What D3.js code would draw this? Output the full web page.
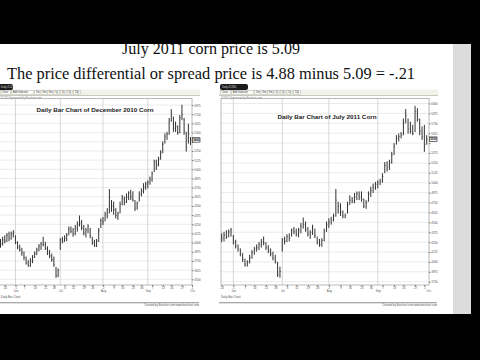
<!DOCTYPE html>
<html>
<head>
<meta charset="utf-8">
<script src="https://cdn.jsdelivr.net/npm/d3@7"></script>
<style>
  body { margin: 0; background: #000; }
  svg { display: block; }
</style>
</head>
<body>
<div id="chart"></div>
<script>
// slide text
var slideLines = ['July 2011 corn price is 5.09', 'The price differential or spread price is 4.88 minus 5.09 = -.21'];

// December 2010 corn, daily bars (cents/bu)
var decHigh = [405,408,410,413,415,415,417,410,402,397, 393,388,381,376,379,383,388,393,398,401,
  408,401,395,390,385,381,367,365,406,408, 410,413,422,422,420,424,429,437,431,424,
  420,425,420,408,404,405,420,433,435,442, 447,473,458,456,447,442,456,465,463,467,
  470,472,470,458,456,470,474,481,483,485, 490,497,513,513,517,526,538,549,551,570,
  582,572,565,560,574,588,570,551,562,544];
var decLow = [393,396,399,401,402,404,407,398,391,388, 382,376,370,367,367,372,379,383,388,390,
  395,390,383,379,374,367,352,353,390,399, 401,402,410,413,408,410,415,422,417,410,
  407,413,406,397,394,394,401,420,424,429, 433,440,442,438,433,431,440,451,451,454,
  458,458,456,443,445,456,463,467,472,474, 479,483,496,499,504,513,522,535,540,547,
  565,551,551,547,549,567,547,524,535,533];
var decClose = [398,404,402,410,406,412,414,400,394,390, 386,380,372,369,375,380,385,390,395,398,
  397,392,386,382,377,370,355,362,404,402, 406,410,418,415,412,420,425,427,420,413,
  417,422,409,400,396,402,416,430,428,438, 440,462,450,445,437,440,452,460,455,462,
  468,462,458,447,454,466,470,476,480,482, 486,494,510,506,514,522,534,545,548,565,
  575,556,558,550,570,575,552,530,548,540];

// July 2011 corn, daily bars (cents/bu)
var julHigh = [436,438,440,441,443,434,428,422,417,411, 404,402,409,415,419,422,425,429,432,425,
  421,417,413,409,400,394,430,432,435,436, 442,444,442,443,449,456,451,444,440,447,
  442,432,429,430,442,451,455,457,461,492, 476,474,465,461,476,484,482,487,489,489,
  489,480,478,489,495,499,501,503,505,512, 526,527,529,539,550,560,562,564,581,593,
  581,577,573,597,594,581,571,573,560];
var julLow = [425,426,429,431,432,422,417,413,407,400, 394,394,398,404,409,413,415,418,421,415,
  411,407,402,398,381,380,413,422,425,426, 432,435,432,431,436,442,438,432,429,434,
  430,422,419,419,426,438,443,447,451,457, 461,458,455,455,461,472,474,474,478,478,
  476,468,467,476,482,487,491,493,497,500, 512,514,516,524,535,548,552,556,560,575,
  562,562,560,564,577,560,554,539,548];
var julClose = [430,434,432,438,440,425,420,416,410,403, 397,400,405,412,416,418,422,425,424,418,
  414,410,405,401,384,388,428,426,432,430, 440,438,435,440,445,447,441,435,437,443,
  433,425,422,427,438,447,450,453,458,478, 470,463,458,459,472,478,477,482,486,482,
  479,470,475,486,490,494,498,500,502,508, 522,520,526,535,546,556,558,560,575,585,
  568,565,562,590,580,565,558,548,555];

// axis ticks
var decYTicks = [350,362.5,375,387.5,400,412.5,425,437.5,450,462.5,475,487.5,500,512.5,525,537.5,550,562.5,575,587.5];
var julYTicks = [375,387.5,400,412.5,425,437.5,450,462.5,475,487.5,500,512.5,525,537.5,550,562.5,575,587.5,600];
var monthLbl = ['Jun','Jul','Aug','Sep','Oct'];
var decMonthIdx = [7, 28, 48, 69, 89.7];
var julMonthIdx = [5, 26, 46, 67, 88.7];
var decWeekIdx = [2,7,11,16,21,25,30,34,39,43,48,53,57,62,66,71,76,80,85,89.7];
var julWeekIdx = [0,5,10,14,19,23,28,32,37,41,46,51,55,60,64,69,74,78,83,87];
var weekLbl = ['24','1','7','14','21','28','6','12','19','26','2','9','16','23','30','7','13','20','27','1'];
var toolbarLbl = ['Chart','Add Indicator','1m','3m','6m','1y','2y','5y','10y'];

var W = 480, H = 360;
var fontSans = 'Arial, "Liberation Sans", sans-serif';
var svg = d3.select('#chart').append('svg')
  .attr('width', W)
  .attr('height', H);

//slide background
svg.append('rect').attr('width', W).attr('height', H).attr('fill', '#000');
svg.append('rect').attr('x', 0).attr('y', 44).attr('width', 453).attr('height', 270).attr('fill', '#fff');
svg.append('rect').attr('x', 453).attr('y', 44).attr('width', 18).attr('height', 270).attr('fill', '#dcdcdc');

//slide text
svg.append('text')
  .attr('x', 211).attr('y', 53.5)
  .attr('text-anchor', 'middle')
  .attr('font-family', '"Liberation Serif", "DejaVu Serif", serif')
  .attr('font-size', 17)
  .attr('textLength', 178)
  .attr('lengthAdjust', 'spacingAndGlyphs')
  .attr('fill', '#111')
  .text(slideLines[0]);
svg.append('text')
  .attr('x', 7).attr('y', 78.5)
  .attr('font-family', '"Liberation Serif", "DejaVu Serif", serif')
  .attr('font-size', 17)
  .attr('textLength', 408)
  .attr('lengthAdjust', 'spacingAndGlyphs')
  .attr('fill', '#111')
  .text(slideLines[1]);

//top black band cuts the first line
svg.append('rect').attr('width', W).attr('height', 44).attr('fill', '#000');

function drawChart(c) {
  var g = svg.append('g').attr('class', 'chart');
  var pw = c.panel[1] - c.panel[0];

  //toolbar + tab
  g.append('rect')
    .attr('x', c.panel[0]).attr('y', 89.5)
    .attr('width', pw).attr('height', 6)
    .attr('fill', '#f2f1ea');
  g.append('line')
    .attr('x1', c.panel[0]).attr('x2', c.panel[1])
    .attr('y1', 95.5).attr('y2', 95.5)
    .attr('stroke', '#c9c9c0');
  g.append('rect')
    .attr('x', c.tab[0]).attr('y', 84)
    .attr('width', c.tab[1]).attr('height', 6)
    .attr('rx', 2)
    .attr('fill', '#1a1a1a');
  g.append('text')
    .attr('x', c.tab[2]).attr('y', 88.3)
    .attr('font-family', fontSans)
    .attr('font-size', 2.6)
    .attr('fill', '#ddd')
    .text(c.tabText);

  var bx = c.toolbarX;
  toolbarLbl.forEach(function(lbl) {
    var w = lbl.length * 1.5 + 2.5;
    g.append('rect')
      .attr('x', bx).attr('y', 90.5)
      .attr('width', w).attr('height', 4)
      .attr('fill', '#fbfbf7')
      .attr('stroke', '#a9a9a0')
      .attr('stroke-width', 0.4);
    g.append('text')
      .attr('x', bx + 1.2).attr('y', 93.4)
      .attr('font-family', fontSans)
      .attr('font-size', 2.6)
      .attr('fill', '#444')
      .text(lbl);
    bx += w + 1;
  });

  //symbol line
  g.append('text')
    .attr('x', c.symbolX).attr('y', 98.6)
    .attr('font-family', fontSans)
    .attr('font-size', 2.6)
    .attr('fill', '#777')
    .text(c.symbolText);

  var x = c.x, y = c.y, p = c.plot;
  var last = c.close[c.close.length - 1];

  //grid
  g.selectAll('.hgrid')
    .data(c.yTicks)
    .enter().append('line')
      .attr('class', 'hgrid')
      .attr('x1', p.left).attr('x2', p.right)
      .attr('y1', function(d) { return y(d); })
      .attr('y2', function(d) { return y(d); })
      .attr('stroke', '#e6e6e6')
      .attr('stroke-width', 0.8);
  g.selectAll('.vgrid')
    .data(c.monthIdx.slice(0, -1))
    .enter().append('line')
      .attr('class', 'vgrid')
      .attr('x1', function(d) { return x(d); })
      .attr('x2', function(d) { return x(d); })
      .attr('y1', p.top).attr('y2', p.bottom)
      .attr('stroke', '#d6d6d6')
      .attr('stroke-width', 1);

  //plot frame
  g.append('rect')
    .attr('x', p.left).attr('y', p.top)
    .attr('width', p.right - p.left).attr('height', p.bottom - p.top)
    .attr('fill', 'none')
    .attr('stroke', '#a8a8a8')
    .attr('stroke-width', 0.8);

  //y axis on the right (label under the last-price box is hidden by it)
  var yAxis = g.append('g')
    .attr('transform', 'translate(' + p.right + ',0)')
    .call(d3.axisRight(y).tickValues(c.yTicks).tickSize(1.5).tickPadding(0.8)
      .tickFormat(function(d) { return Math.abs(y(d) - y(last)) < 4.5 ? '' : d3.format('d')(d * 10); }));
  yAxis.select('.domain').remove();
  yAxis.attr('font-size', 2.9).attr('font-family', fontSans);
  yAxis.selectAll('text').attr('fill', '#555');
  yAxis.selectAll('line').attr('stroke', '#777');

  //bars
  g.selectAll('.bar')
    .data(c.high)
    .enter().append('line')
      .attr('class', 'bar')
      .attr('x1', function(d, i) { return x(i); })
      .attr('x2', function(d, i) { return x(i); })
      .attr('y1', function(d) { return y(d); })
      .attr('y2', function(d, i) { return y(c.low[i]); })
      .attr('stroke', '#333')
      .attr('stroke-width', 1);
  g.selectAll('.close-tick')
    .data(c.close)
    .enter().append('line')
      .attr('class', 'close-tick')
      .attr('x1', function(d, i) { return x(i); })
      .attr('x2', function(d, i) { return x(i) + 1.1; })
      .attr('y1', function(d) { return y(d); })
      .attr('y2', function(d) { return y(d); })
      .attr('stroke', '#444')
      .attr('stroke-width', 0.6);

  //last price marker
  g.append('rect')
    .attr('x', p.right + 0.5).attr('y', y(last) - 2.2)
    .attr('width', 7.5).attr('height', 4.4)
    .attr('fill', '#fff')
    .attr('stroke', '#111')
    .attr('stroke-width', 0.6);
  g.append('text')
    .attr('x', p.right + 1.2).attr('y', y(last) + 1)
    .attr('font-family', fontSans)
    .attr('font-size', 2.9)
    .attr('font-weight', 'bold')
    .attr('fill', '#000')
    .text(d3.format('d')(last * 10));

  //chart title
  g.append('text')
    .attr('x', c.title[0]).attr('y', c.title[1])
    .attr('text-anchor', 'middle')
    .attr('font-family', fontSans)
    .attr('font-size', 6)
    .attr('font-weight', 'bold')
    .attr('textLength', c.title[2])
    .attr('lengthAdjust', 'spacingAndGlyphs')
    .attr('fill', '#222')
    .text(c.titleText);

  //x axis: weeks then months
  var xAxis = g.append('g')
    .attr('transform', 'translate(0,' + p.bottom + ')')
    .call(d3.axisBottom(x).tickValues(c.weekIdx).tickSize(1.5).tickPadding(0.6)
      .tickFormat(function(d, i) { return weekLbl[i]; }));
  xAxis.select('.domain').remove();
  xAxis.attr('font-size', 2.9).attr('font-family', fontSans);
  xAxis.selectAll('text').attr('fill', '#555');
  xAxis.selectAll('line').attr('stroke', '#777');

  var mAxis = g.append('g')
    .attr('transform', 'translate(0,' + (p.bottom + 4.8) + ')')
    .call(d3.axisBottom(x).tickValues(c.monthIdx).tickSize(0).tickPadding(0.6)
      .tickFormat(function(d, i) { return monthLbl[i]; }));
  mAxis.select('.domain').remove();
  mAxis.attr('font-size', 2.9).attr('font-family', fontSans);
  mAxis.selectAll('text').attr('fill', '#555');

  //footer
  g.append('text')
    .attr('x', c.footX).attr('y', 297.5)
    .attr('font-family', fontSans)
    .attr('font-size', 2.9)
    .attr('fill', '#555')
    .text('Daily Bar Chart');
  g.append('line')
    .attr('x1', c.panel[0]).attr('x2', c.panel[1] - 1)
    .attr('y1', 302.8).attr('y2', 302.8)
    .attr('stroke', '#8d8d8d')
    .attr('stroke-width', 1.1);
  g.append('text')
    .attr('x', c.panel[1] - 1).attr('y', 306.2)
    .attr('text-anchor', 'end')
    .attr('font-family', fontSans)
    .attr('font-size', 2.8)
    .attr('fill', '#555')
    .text('Created by Barchart.com  www.barchart.com');
}

drawChart({
  high: decHigh, low: decLow, close: decClose,
  yTicks: decYTicks, monthIdx: decMonthIdx, weekIdx: decWeekIdx,
  x: d3.scaleLinear().domain([0, 89]).range([0.5, 190.5]),
  y: d3.scaleLinear().domain([350, 587.5]).range([279.3, 105.1]),
  plot: {left: -21, right: 192, top: 98.5, bottom: 285},
  panel: [-30, 200],
  tab: [-8, 21, 0.8], tabText: 'Daily ZCZ10',
  toolbarX: 0.5,
  symbolX: 0.5, symbolText: 'ZCZ10 Sponsored by Barchart.com',
  title: [95, 111.5, 117], titleText: 'Daily Bar Chart of December 2010 Corn',
  footX: 0.8
});

drawChart({
  high: julHigh, low: julLow, close: julClose,
  yTicks: julYTicks, monthIdx: julMonthIdx, weekIdx: julWeekIdx,
  x: d3.scaleLinear().domain([0, 88]).range([221.7, 426.7]),
  y: d3.scaleLinear().domain([375, 600]).range([281.7, 103.5]),
  plot: {left: 221, right: 429, top: 98.5, bottom: 285},
  panel: [219, 438],
  tab: [220, 28, 222], tabText: 'Daily ZCN11',
  toolbarX: 220.5,
  symbolX: 221, symbolText: 'ZCN11 Sponsored by Barchart.com',
  title: [327, 119, 99], titleText: 'Daily Bar Chart of July 2011 Corn',
  footX: 221
});
</script>
</body>
</html>
